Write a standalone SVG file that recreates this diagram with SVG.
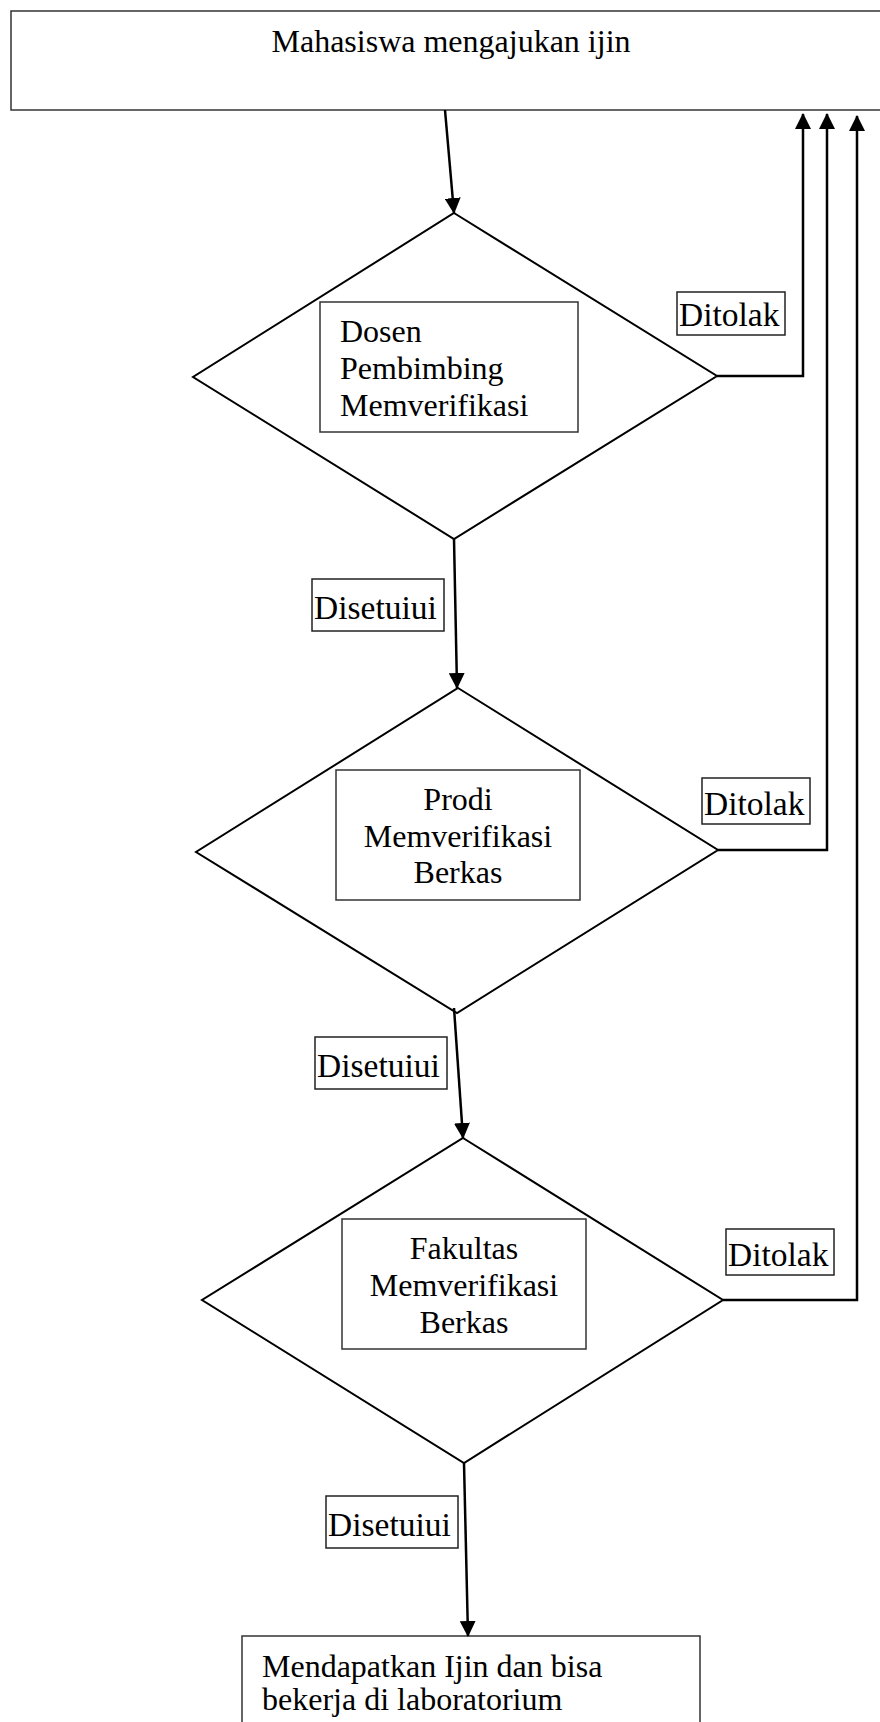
<svg xmlns="http://www.w3.org/2000/svg" width="880" height="1722" viewBox="0 0 880 1722">
<style>
text{font-family:"Liberation Serif","Times New Roman",serif;font-size:32px;fill:#000}
.lt{font-size:33.5px}
.box{fill:#fff;stroke:#333;stroke-width:1.5}
.lbl{fill:#fff;stroke:#222;stroke-width:1.5}
.dia{fill:#fff;stroke:#000;stroke-width:2}
.con{fill:none;stroke:#000;stroke-width:2.5}
.mid{text-anchor:middle}
</style>
<defs>
<marker id="ah" markerUnits="userSpaceOnUse" markerWidth="18" markerHeight="16" refX="15" refY="8" orient="auto">
<path d="M0,0 L16,8 L0,16 Z" fill="#000"/>
</marker>
</defs>
<rect width="880" height="1722" fill="#fff"/>
<g id="start">
<rect class="box" x="11" y="11" width="880" height="99"/>
<text class="mid" x="451" y="52">Mahasiswa mengajukan ijin</text>
</g>
<g id="decision1">
<polygon class="dia" points="454,213 717,376 454,539 193,377"/>
<rect class="box" x="320" y="302" width="258" height="130"/>
<text x="340" y="342">Dosen</text>
<text x="340" y="379">Pembimbing</text>
<text x="340" y="416">Memverifikasi</text>
</g>
<g id="decision2">
<polygon class="dia" points="458,688 718,850 457,1013 196,852"/>
<rect class="box" x="336" y="770" width="244" height="130"/>
<text class="mid" x="458" y="810">Prodi</text>
<text class="mid" x="458" y="847">Memverifikasi</text>
<text class="mid" x="458" y="883">Berkas</text>
</g>
<g id="decision3">
<polygon class="dia" points="463,1138 723,1300 464,1463 202,1300"/>
<rect class="box" x="342" y="1219" width="244" height="130"/>
<text class="mid" x="464" y="1259">Fakultas</text>
<text class="mid" x="464" y="1296">Memverifikasi</text>
<text class="mid" x="464" y="1333">Berkas</text>
</g>
<g id="end">
<rect class="box" x="242" y="1636" width="458" height="100"/>
<text x="262" y="1677">Mendapatkan Ijin dan bisa</text>
<text x="262" y="1710">bekerja di laboratorium</text>
</g>
<g id="connectors">
<line class="con" x1="445" y1="110" x2="454" y2="213" marker-end="url(#ah)"/>
<line class="con" x1="454" y1="539" x2="457" y2="688" marker-end="url(#ah)"/>
<line class="con" x1="454" y1="1008" x2="463" y2="1138" marker-end="url(#ah)"/>
<line class="con" x1="464" y1="1463" x2="468" y2="1636" marker-end="url(#ah)"/>
<polyline class="con" points="717,376 803,376 803,114" marker-end="url(#ah)"/>
<polyline class="con" points="718,850 827,850 827,114" marker-end="url(#ah)"/>
<polyline class="con" points="723,1300 857,1300 857,116" marker-end="url(#ah)"/>
</g>
<g id="labels">
<g id="lbl-ditolak1"><rect class="lbl" x="677" y="292" width="108" height="43"/><text class="lt" x="679" y="326">Ditolak</text></g>
<g id="lbl-ditolak2"><rect class="lbl" x="702" y="778" width="108" height="46"/><text class="lt" x="704" y="815">Ditolak</text></g>
<g id="lbl-ditolak3"><rect class="lbl" x="726" y="1229" width="108" height="46"/><text class="lt" x="728" y="1266">Ditolak</text></g>
<g id="lbl-setuju1"><rect class="lbl" x="312" y="579" width="132" height="52"/><text class="lt" x="314" y="619">Disetuiui</text></g>
<g id="lbl-setuju2"><rect class="lbl" x="315" y="1037" width="132" height="52"/><text class="lt" x="317" y="1077">Disetuiui</text></g>
<g id="lbl-setuju3"><rect class="lbl" x="326" y="1496" width="132" height="52"/><text class="lt" x="328" y="1536">Disetuiui</text></g>
</g>
</svg>
